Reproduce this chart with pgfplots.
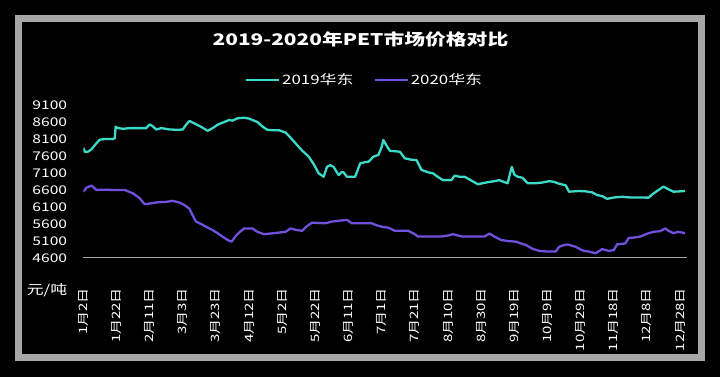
\documentclass[border=0pt]{standalone}
\usepackage{fontspec}
\usepackage{pgfplots}
\pgfplotsset{compat=1.18}
\setmainfont{Noto Sans CJK SC}[FakeStretch=1.3]
\newfontfamily\xlab{Noto Sans CJK SC}[FakeStretch=1.3]
\definecolor{c19}{RGB}{60,218,200}
\definecolor{c20}{RGB}{112,80,220}
\definecolor{frame}{RGB}{166,166,166}
\begin{document}
\begin{tikzpicture}
\fill[black] (0pt,0pt) rectangle (720pt,377pt);
\useasboundingbox (0pt,0pt) rectangle (720pt,377pt);
\draw[frame, line width=7pt] (18.5pt,19.5pt) rectangle (701.5pt,358.5pt);
\node[white, font=\fontsize{16}{18}\selectfont\bfseries] at (360.5pt,337.5pt) {2019-2020年PET市场价格对比};
\node[white, font=\fontsize{13}{15}\selectfont] at (47pt,87pt) {元/吨};
\begin{axis}[
  at={(83.3pt,119pt)}, anchor=south west, scale only axis,
  width=603.4pt, height=153pt,
  xmin=0, xmax=364, ymin=4600, ymax=9100,
  axis x line*=bottom, axis y line*=left,
  x axis line style={-, draw=frame, line width=1pt},
  y axis line style={draw=none},
  tick style={draw=none},
  ytick={4600,5100,...,9100},
  /pgf/number format/assume math mode=true,
  /pgf/number format/.cd, 1000 sep={}, /pgfplots/.cd,
  yticklabel style={white, anchor=east, inner sep=0pt, xshift=-16pt, font=\fontsize{12}{14}\selectfont},
  xtick={0,20,...,360},
  xticklabels={1月2日,1月22日,2月11日,3月3日,3月23日,4月12日,5月2日,5月22日,6月11日,7月1日,7月21日,8月10日,8月30日,9月19日,10月9日,10月29日,11月18日,12月8日,12月28日},
  xticklabel style={white, rotate=90, anchor=east, inner sep=0pt, font=\xlab\fontsize{11.5}{13}\selectfont},
  xticklabel shift=30pt,
  legend columns=2,
  legend style={at={(0.466,1.163)}, anchor=center, draw=none, fill=none, text=white,
    font=\fontsize{13}{15}\selectfont,
    /tikz/every even column/.append style={column sep=18pt}},
  legend image code/.code={\draw[#1] (0pt,0pt) -- (33pt,0pt);},
]
\addplot[c19, line width=2.3pt, line join=round] coordinates {
(0,7840)(1,7720)(3,7730)(5,7800)(8,7980)(10,8080)(13,8100)(18,8100)(19,8120)(19.5,8460)(21,8420)(24,8400)(28,8420)(33,8420)(38,8420)(40,8530)(42,8470)(44,8380)(47,8420)(52,8380)(57,8370)(60,8380)(62,8520)(64,8630)(67,8560)(71,8460)(75,8340)(78,8420)(81,8520)(84,8580)(86,8620)(88,8660)(90,8640)(93,8710)(97,8725)(100,8700)(103,8640)(105,8600)(108,8470)(111,8370)(114,8360)(118,8360)(122,8290)(125,8140)(129,7920)(132,7760)(136,7580)(139,7360)(142,7090)(145,6990)(147,7280)(149,7330)(151,7280)(153,7120)(154,7040)(156,7130)(157,7120)(159,6990)(164,6990)(167,7380)(170,7420)(172,7430)(175,7580)(178,7630)(180,7870)(181,8070)(183,7900)(185,7750)(188,7740)(191,7725)(194,7530)(198,7490)(201,7480)(204,7190)(208,7120)(211,7090)(214,6980)(217,6890)(222,6890)(224,7020)(227,6990)(230,6990)(234,6880)(238,6770)(241,6800)(244,6830)(248,6860)(251,6890)(254,6830)(256,6800)(257.5,7100)(258.5,7280)(260,7050)(262,6990)(265,6960)(268,6800)(273,6800)(277,6820)(281,6860)(284,6840)(286,6800)(289,6760)(291,6740)(293,6550)(296,6560)(299,6570)(303,6560)(307,6530)(310,6450)(313,6420)(316,6340)(320,6380)(325,6400)(330,6380)(335,6380)(341,6375)(344,6500)(347,6600)(350,6700)(353,6620)(356,6550)(360,6560)(363,6570)
};
\addlegendentry{2019华东}
\addplot[c20, line width=2.3pt, line join=round] coordinates {
(0,6550)(2,6670)(5,6730)(8,6600)(12,6610)(18,6600)(25,6600)(28,6540)(30,6500)(34,6360)(37,6180)(41,6210)(45,6240)(50,6250)(54,6280)(58,6230)(61,6160)(64,6050)(66,5850)(68,5670)(71,5600)(74,5520)(78,5420)(81,5330)(84,5230)(87,5130)(89.5,5080)(92,5250)(94.5,5370)(97,5470)(102,5470)(105,5370)(109,5300)(115,5330)(122,5370)(125,5470)(129,5420)(132,5400)(135,5540)(138,5640)(146,5620)(150,5670)(155,5700)(159,5720)(162,5620)(168,5620)(174,5620)(177,5560)(180,5520)(184,5490)(188,5400)(196,5400)(200,5300)(202,5230)(210,5230)(216,5230)(220,5260)(223,5300)(226,5260)(229,5230)(236,5230)(242,5230)(245,5320)(248,5230)(252,5130)(256,5100)(261,5080)(264,5030)(267,4980)(271,4870)(275,4810)(280,4790)(285,4790)(287,4930)(290,4980)(292,5000)(297,4930)(300,4850)(302,4810)(305,4790)(309,4740)(313,4860)(317,4810)(320,4830)(322,5000)(327,5030)(329,5190)(332,5200)(336,5230)(338,5270)(341,5330)(344,5370)(348,5390)(351,5470)(353,5400)(356,5330)(359,5370)(363,5330)
};
\addlegendentry{2020华东}
\end{axis}
\end{tikzpicture}
\end{document}
